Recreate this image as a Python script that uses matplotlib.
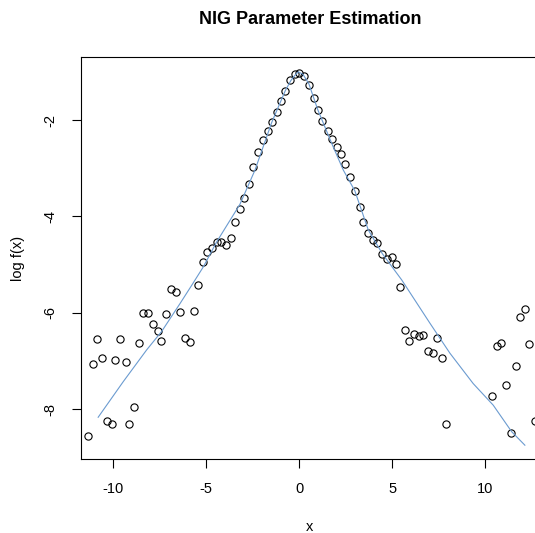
import numpy as np
import matplotlib.pyplot as plt

plt.rcParams['font.family'] = ['Liberation Sans', 'DejaVu Sans']
plt.rcParams['axes.unicode_minus'] = False

# empirical log-density points (bin midpoints, empty bins left out)
x_emp = [-11.34, -11.08, -10.86, -10.61, -10.34, -10.07, -9.89, -9.62, -9.33, -9.14,
         -8.87, -8.62, -8.42, -8.13, -7.88, -7.61, -7.42, -7.15, -6.90, -6.65,
         -6.41, -6.15, -5.88, -5.68, -5.43, -5.16, -4.96, -4.69, -4.44, -4.19,
         -3.94, -3.69, -3.44, -3.20, -2.96, -2.69, -2.49, -2.20, -1.95, -1.68,
         -1.48, -1.22, -0.97, -0.75, -0.50, -0.23, -0.02, 0.25, 0.51, 0.77,
         0.99, 1.24, 1.53, 1.74, 2.01, 2.26, 2.47, 2.71, 2.99, 3.25,
         3.42, 3.71, 3.98, 4.18, 4.46, 4.72, 4.98, 5.18, 5.43, 5.70,
         5.91, 6.18, 6.44, 6.67, 6.90, 7.17, 7.42, 7.66, 7.90, 10.38,
         10.65, 10.86, 11.13, 11.38, 11.65, 11.85, 12.12, 12.37, 12.65]
y_emp = [-8.55, -7.07, -6.55, -6.94, -8.24, -8.30, -6.98, -6.55, -7.02, -8.30,
         -7.96, -6.62, -6.00, -6.01, -6.23, -6.38, -6.58, -6.03, -5.51, -5.56,
         -5.98, -6.53, -6.60, -5.96, -5.43, -4.95, -4.73, -4.66, -4.53, -4.54,
         -4.60, -4.44, -4.12, -3.85, -3.61, -3.33, -2.98, -2.66, -2.42, -2.23,
         -2.05, -1.84, -1.61, -1.39, -1.17, -1.05, -1.02, -1.09, -1.28, -1.55,
         -1.79, -2.01, -2.23, -2.40, -2.57, -2.71, -2.91, -3.19, -3.47, -3.81,
         -4.12, -4.35, -4.49, -4.56, -4.78, -4.89, -4.84, -4.98, -5.47, -6.36,
         -6.58, -6.44, -6.48, -6.46, -6.80, -6.84, -6.53, -6.95, -8.32, -7.72,
         -6.69, -6.62, -7.50, -8.50, -7.11, -6.08, -5.92, -6.64, -8.25]

# fitted NIG log-density
x_fit = [-10.81, -9.46, -8.20, -7.40, -6.41, -5.78, -5.16, -4.44, -3.19, -2.38,
         -1.48, -0.75, -0.45, -0.23, -0.05, 0.20, 0.52, 0.99, 1.74, 2.37,
         2.99, 3.71, 4.46, 5.51, 7.03, 8.10, 9.35, 10.43, 11.42, 12.13]
y_fit = [-8.17, -7.43, -6.77, -6.39, -5.81, -5.43, -5.05, -4.53, -3.75, -3.04,
         -2.05, -1.39, -1.18, -1.07, -1.00, -1.05, -1.25, -1.78, -2.48, -3.04,
         -3.47, -4.28, -4.77, -5.32, -6.22, -6.84, -7.47, -7.92, -8.47, -8.75]

fig = plt.figure(figsize=(5.35, 5.33), dpi=100)
ax = fig.add_axes([0.1508, 0.1388, 0.8567, 0.7542])

ax.plot(x_emp, y_emp, 'o', markersize=5.2, markerfacecolor='none',
        markeredgecolor='black', markeredgewidth=0.8)
ax.plot(x_fit, y_fit, color='#6b9bd0', linewidth=0.8)

ax.set_xlim(-11.75, 12.89)
ax.set_ylim(-9.037, -0.692)
ax.set_xticks([-10, -5, 0, 5, 10])
ax.set_yticks([-2, -4, -6, -8])
ax.tick_params(direction='out', length=6.5, width=0.8, labelsize=10.5, pad=10)
plt.setp(ax.get_yticklabels(), rotation=90, va='center')
ax.spines['right'].set_visible(False)
for s in ['left', 'bottom', 'top']:
    ax.spines[s].set_linewidth(0.8)

fig.text(0.579, 0.964, 'NIG Parameter Estimation', ha='center', va='center',
         fontsize=13, fontweight='bold')
fig.text(0.579, 0.012, 'x', ha='center', va='center', fontsize=10.5)
fig.text(0.034, 0.516, 'log f(x)', ha='center', va='center', rotation=90, fontsize=10.5)

fig.savefig('out.png', dpi=100)
